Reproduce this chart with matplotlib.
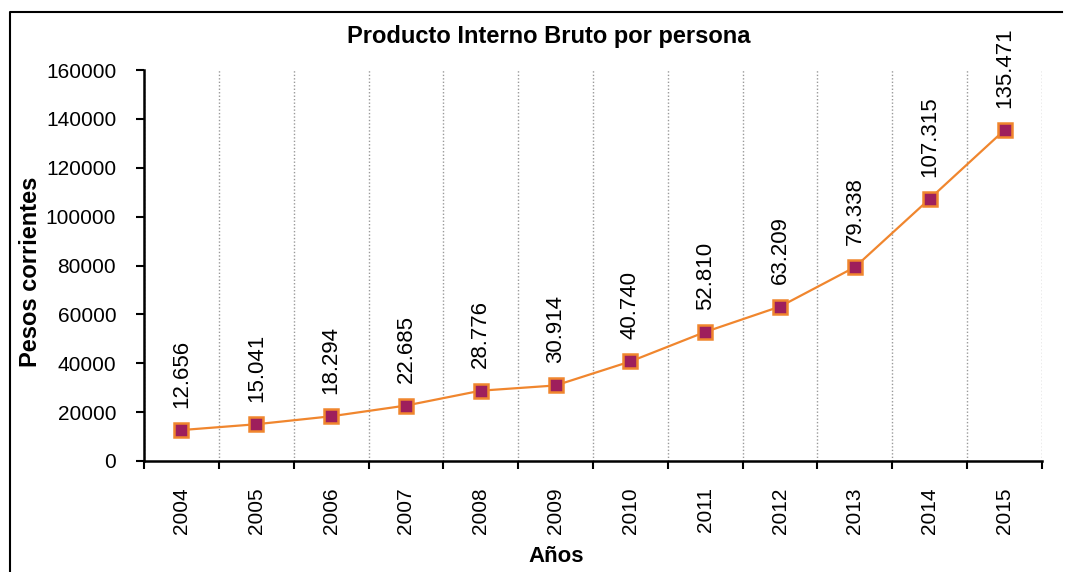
import matplotlib
matplotlib.use("Agg")
import matplotlib.pyplot as plt
from matplotlib.lines import Line2D
import numpy as np

years = ["2004", "2005", "2006", "2007", "2008", "2009", "2010", "2011", "2012", "2013", "2014", "2015"]
pib = [12656, 15041, 18294, 22685, 28776, 30914, 40740, 52810, 63209, 79338, 107315, 135471]
yticks = [0, 20000, 40000, 60000, 80000, 100000, 120000, 140000, 160000]

plt.rcParams['font.family'] = ['Liberation Sans', 'DejaVu Sans']

fig = plt.figure(figsize=(10.66, 5.72), dpi=100)
ax = fig.add_axes([144/1066, 1 - 461/572, (1042 - 144)/1066, (461 - 70)/572])

x = np.arange(len(years))
ax.plot(x, pib, color='#F0862E', lw=1.6, marker='s', markersize=10,
        markerfacecolor='#9E1F5C', markeredgecolor='#F0862E', markeredgewidth=1.8, zorder=3)

for xi, v in zip(x, pib):
    lbl = f"{v:,}".replace(",", ".")
    ax.annotate(lbl, (xi, v), xytext=(0, 16), textcoords='offset points',
                rotation=90, ha='center', va='bottom', fontsize=16)

ax.set_xlim(-0.5, len(years) - 0.5)
ax.set_ylim(0, 160000)
ax.set_yticks(yticks)
ax.set_yticklabels([str(t) for t in yticks], fontsize=15)

bounds = np.arange(-0.5, len(years), 1.0)
ax.set_xticks(bounds)
ax.set_xticklabels([])
ax.set_xticks(x, minor=True)
ax.set_xticklabels(years, minor=True, rotation=90, fontsize=15)
ax.tick_params(axis='x', which='minor', length=0, pad=19)
ax.tick_params(axis='x', which='major', length=6, width=1.5, direction='out')
ax.tick_params(axis='y', length=6, width=1.5, direction='out', pad=14)

ax.grid(axis='x', which='major', color='#999999', linestyle=(0, (1, 1.5)), lw=1.0)
ax.set_axisbelow(True)

for s in ['top', 'right']:
    ax.spines[s].set_visible(False)
for s in ['left', 'bottom']:
    ax.spines[s].set_linewidth(1.8)

fig.text(549/1066, 1 - 36/572, "Producto Interno Bruto por persona", fontsize=17,
         fontweight='bold', ha='center', va='center')

fig.text(31/1066, 1 - 272/572, "Pesos corrientes", fontsize=17, fontweight='bold',
         rotation=90, ha='center', va='center')
fig.text(556/1066, 1 - 556/572, "Años", fontsize=16, fontweight='bold', ha='center', va='center')

# outer frame (left and top edges)
fig.add_artist(Line2D([10/1066, 10/1066, 1062/1066], [0, 1 - 12/572, 1 - 12/572],
                      transform=fig.transFigure, color='black', lw=1.5))

fig.savefig("out.png", dpi=100)
